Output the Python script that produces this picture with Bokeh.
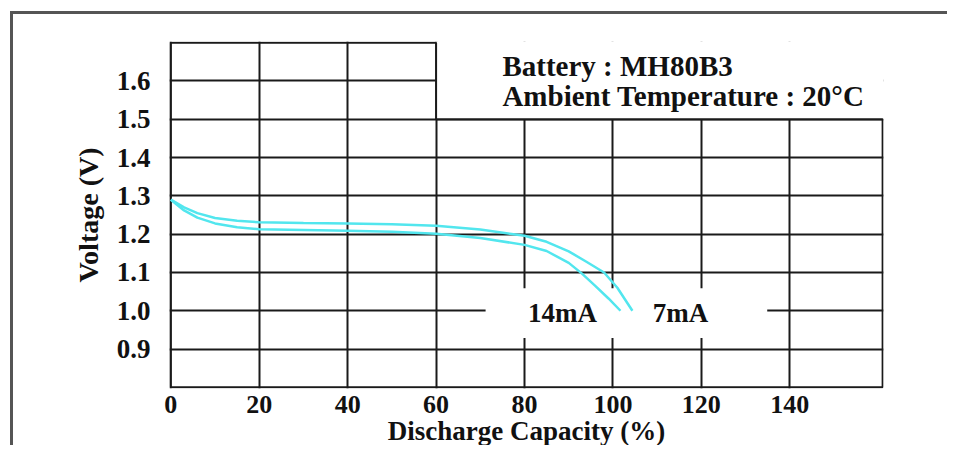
from bokeh.plotting import figure
from bokeh.models import Range1d, FixedTicker, PrintfTickFormatter
from bokeh.core.properties import value
from bokeh.embed import file_html
from bokeh.resources import INLINE

# ---------------- data ----------------
cap_14mA = [0, 3, 6, 10, 15, 20, 30, 40, 50, 60, 70, 80, 85, 90, 93, 96, 99, 101.7]
volt_14mA = [1.29, 1.262, 1.243, 1.228, 1.218, 1.213, 1.211, 1.209, 1.206, 1.201, 1.19, 1.172, 1.156, 1.125, 1.097, 1.065, 1.032, 1.0]

cap_7mA = [0, 3, 6, 10, 15, 20, 30, 40, 50, 60, 70, 80, 85, 90, 94, 98, 101, 104.4]
volt_7mA = [1.29, 1.27, 1.255, 1.242, 1.235, 1.231, 1.229, 1.228, 1.226, 1.222, 1.212, 1.196, 1.18, 1.155, 1.128, 1.10, 1.06, 1.0]

series_labels = ["14mA", "7mA"]
label_x = [88.6, 115.3]
label_y = [0.995, 0.995]

x_ticks = [0, 20, 40, 60, 80, 100, 120, 140]
y_ticks = [0.9, 1.0, 1.1, 1.2, 1.3, 1.4, 1.5, 1.6]

info_lines = ["Battery : MH80B3", "Ambient Temperature : 20°C"]
info_x = [75, 75]
info_y = [1.640, 1.560]

x_title = "Discharge Capacity (%)"
y_title = "Voltage (V)"

X_MIN, X_MAX = 0, 161
Y_MIN, Y_MAX = 0.8, 1.7

FONT = "Liberation Serif"
GRID = "#1a1a1a"
CYAN = "#52e6ee"
FRAME = "#555555"

p = figure(width=937, height=434, output_backend="svg", toolbar_location=None,
           x_range=Range1d(X_MIN - 0.3, X_MAX + 0.2),
           y_range=Range1d(Y_MIN - 0.003, Y_MAX + 0.003),
           min_border_left=156, min_border_right=67, min_border_top=27, min_border_bottom=59)
p.outline_line_color = None
p.background_fill_color = "white"
p.border_fill_color = "white"
# outer frame of the picture (left and top edges)
p.styles = {
    "margin-left": "10px",
    "margin-top": "11px",
    "border-left": f"3px solid {FRAME}",
    "border-top": f"3px solid {FRAME}",
}

# grid
p.xgrid.ticker = FixedTicker(ticks=x_ticks)
p.ygrid.ticker = FixedTicker(ticks=y_ticks)
for g in (p.xgrid, p.ygrid):
    g.grid_line_color = GRID
    g.grid_line_width = 2

# axes
p.xaxis.ticker = FixedTicker(ticks=x_ticks)
p.yaxis.ticker = FixedTicker(ticks=y_ticks)
p.yaxis.formatter = PrintfTickFormatter(format="%.1f")
for ax in (p.xaxis, p.yaxis):
    ax.axis_line_color = None
    ax.major_tick_line_color = None
    ax.minor_tick_line_color = None
    ax.major_tick_out = 0
    ax.major_label_text_font = FONT
    ax.major_label_text_font_style = "bold"
    ax.major_label_text_font_size = "27px"
    ax.major_label_text_color = "#111"
    ax.axis_label_text_font = FONT
    ax.axis_label_text_font_style = "bold"
    ax.axis_label_text_font_size = "28px"
    ax.axis_label_text_color = "#111"
p.xaxis.major_label_text_font_size = "26px"
p.xaxis.axis_label_text_font_size = "27px"
p.xaxis.axis_label = x_title
p.yaxis.axis_label = y_title
p.xaxis.major_label_standoff = 7
p.xaxis.axis_label_standoff = 0
p.yaxis.major_label_standoff = 19
p.yaxis.axis_label_standoff = 10

# white area holding the info text (top right)
p.quad(left=[x_ticks[3]], right=[X_MAX + 1], bottom=[y_ticks[6]], top=[Y_MAX + 0.05],
       fill_color="white", line_color=None)
# white area behind the series labels
p.quad(left=[71.2], right=[134.9], bottom=[0.929], top=[1.059],
       fill_color="white", line_color=None)

# frame border (stepped at the info area)
bx = [X_MIN, X_MIN, x_ticks[3], x_ticks[3], X_MAX, X_MAX, X_MIN]
by = [Y_MIN, Y_MAX, Y_MAX, y_ticks[6], y_ticks[6], Y_MIN, Y_MIN]
p.line(bx, by, line_color=GRID, line_width=2)

# curves
p.line(cap_14mA, volt_14mA, line_color=CYAN, line_width=2.5)
p.line(cap_7mA, volt_7mA, line_color=CYAN, line_width=2.5)

# series labels
p.text(x=label_x, y=label_y, text=series_labels, text_font=value(FONT),
       text_font_style="bold", text_font_size="27px", text_color="#111",
       text_align="center", text_baseline="middle")

# info text
p.text(x=info_x, y=info_y, text=info_lines, text_font=value(FONT),
       text_font_style="bold", text_font_size="29px", text_color="#111",
       text_align="left", text_baseline="alphabetic")

open("out.html", "w").write(file_html(p, INLINE))
